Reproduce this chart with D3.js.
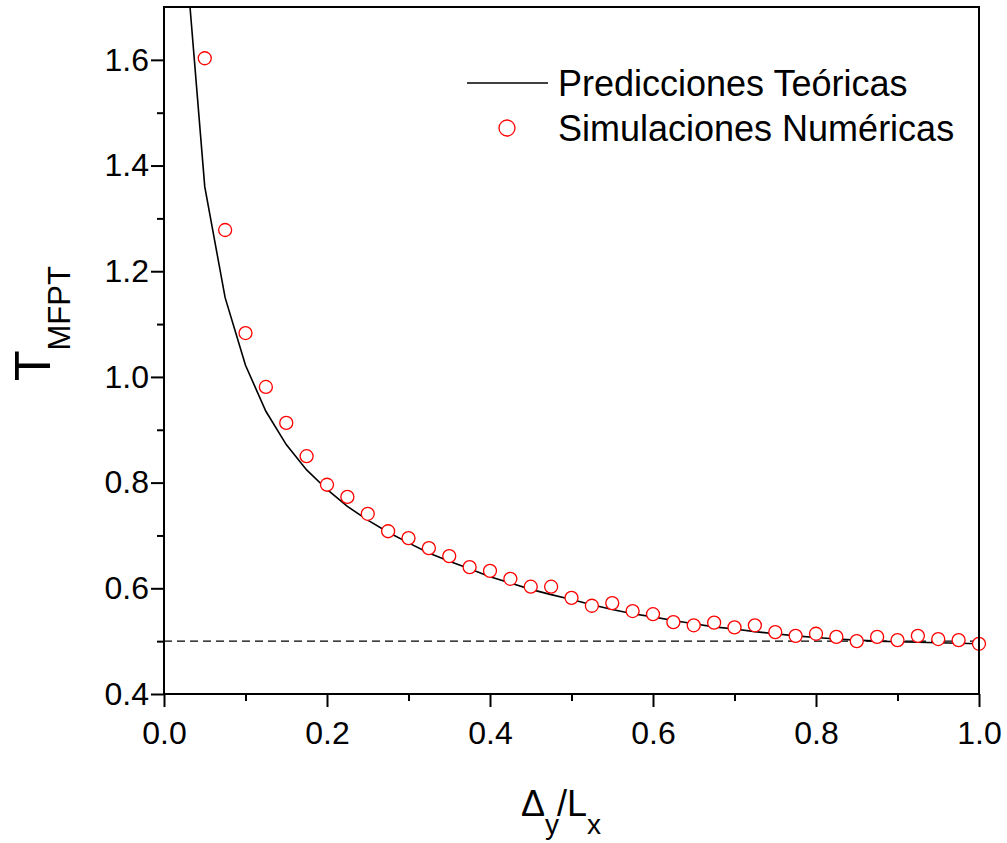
<!DOCTYPE html>
<html>
<head>
<meta charset="utf-8">
<script src="https://cdn.jsdelivr.net/npm/d3@7"></script>
<style>
    body { margin: 0; background: #fff; }
    svg { display: block; font-family: "Liberation Sans", Arial, sans-serif; }
</style>
</head>
<body>
<div id="chart"></div>
<script>
// curve (teoria), step 0.025
const theoryX = [0.025, 0.05, 0.075, 0.1, 0.125, 0.15, 0.175, 0.2, 0.225, 0.25, 0.275, 0.3, 0.325, 0.35, 0.375, 0.4,
    0.425, 0.45, 0.475, 0.5, 0.525, 0.55, 0.575, 0.6, 0.625, 0.65, 0.675, 0.7, 0.725, 0.75, 0.775, 0.8,
    0.825, 0.85, 0.875, 0.9, 0.925, 0.95, 0.975, 1.0];
const theoryY = [1.83, 1.36, 1.15, 1.022, 0.935, 0.872, 0.824, 0.787, 0.755, 0.729, 0.706, 0.686, 0.667, 0.651, 0.637, 0.622,
    0.610, 0.598, 0.588, 0.579, 0.569, 0.560, 0.552, 0.546, 0.539, 0.533, 0.527, 0.523, 0.518, 0.514, 0.510, 0.507,
    0.504, 0.502, 0.500, 0.499, 0.498, 0.497, 0.496, 0.495];

// simulaciones
const simX = [0.05, 0.075, 0.1, 0.125, 0.15, 0.175, 0.2, 0.225, 0.25, 0.275, 0.3, 0.325, 0.35, 0.375, 0.4,
    0.425, 0.45, 0.475, 0.5, 0.525, 0.55, 0.575, 0.6, 0.625, 0.65, 0.675, 0.7, 0.725, 0.75, 0.775, 0.8,
    0.825, 0.85, 0.875, 0.9, 0.925, 0.95, 0.975, 1.0];
const simY = [1.603, 1.278, 1.083, 0.981, 0.913, 0.850, 0.796, 0.773, 0.741, 0.708, 0.695, 0.676, 0.661, 0.640, 0.633,
    0.618, 0.603, 0.603, 0.582, 0.567, 0.572, 0.557, 0.551, 0.536, 0.530, 0.535, 0.526, 0.530, 0.517, 0.510, 0.514,
    0.508, 0.500, 0.508, 0.502, 0.510, 0.504, 0.502, 0.495];

const asymptote = 0.5;
const xTicks = [0, 0.2, 0.4, 0.6, 0.8, 1.0];
const xMinor = [0.1, 0.3, 0.5, 0.7, 0.9];
const yTicks = [0.4, 0.6, 0.8, 1.0, 1.2, 1.4, 1.6];
const yMinor = [0.5, 0.7, 0.9, 1.1, 1.3, 1.5];
const legendLabels = ["Predicciones Teóricas", "Simulaciones Numéricas"];

const width = 1007, height = 843;
const margin = {top: 7, right: 28, bottom: 149, left: 164};

const svg = d3.select("#chart").append("svg")
    .attr("width", width)
    .attr("height", height);

const x = d3.scaleLinear().domain([0, 1]).range([margin.left, width - margin.right]);
const y = d3.scaleLinear().domain([0.4, 1.7]).range([height - margin.bottom, margin.top]);

svg.append("clipPath").attr("id", "plot-clip")
    .append("rect")
    .attr("x", x(0)).attr("y", y(1.7))
    .attr("width", x(1) - x(0)).attr("height", y(0.4) - y(1.7));

// dashed line at 0.5
svg.append("line")
    .attr("x1", x(0)).attr("x2", x(1))
    .attr("y1", y(asymptote)).attr("y2", y(asymptote))
    .attr("stroke", "#000")
    .attr("stroke-width", 1.3)
    .attr("stroke-dasharray", "8,5");

const line = d3.line()
    .x((d, i) => x(theoryX[i]))
    .y(d => y(d));

svg.append("path")
    .datum(theoryY)
    .attr("clip-path", "url(#plot-clip)")
    .attr("fill", "none")
    .attr("stroke", "#000")
    .attr("stroke-width", 1.6)
    .attr("d", line);

svg.append("g")
    .selectAll("circle")
    .data(simY)
    .enter().append("circle")
    .attr("cx", (d, i) => x(simX[i]))
    .attr("cy", d => y(d))
    .attr("r", 6.5)
    .attr("fill", "#fff")
    .attr("stroke", "#ff0000")
    .attr("stroke-width", 1.3);

// axes
svg.append("g")
    .attr("transform", `translate(0,${y(0.4)})`)
    .call(d3.axisBottom(x).tickValues(xTicks).tickFormat(d3.format(".1f")).tickSize(13).tickPadding(14));
svg.append("g")
    .attr("transform", `translate(0,${y(0.4)})`)
    .call(d3.axisBottom(x).tickValues(xMinor).tickFormat("").tickSize(7));

svg.append("g")
    .attr("transform", `translate(${x(0)},0)`)
    .call(d3.axisLeft(y).tickValues(yTicks).tickFormat(d3.format(".1f")).tickSize(13).tickPadding(2));
svg.append("g")
    .attr("transform", `translate(${x(0)},0)`)
    .call(d3.axisLeft(y).tickValues(yMinor).tickFormat("").tickSize(7));

svg.selectAll(".domain").remove();
svg.selectAll(".tick line").attr("stroke", "#000").attr("stroke-width", 2);
svg.selectAll(".tick text")
    .attr("fill", "#000")
    .style("font-size", "32px")
    .style("font-family", "'Liberation Sans', Arial, sans-serif");

// frame
svg.append("rect")
    .attr("x", x(0)).attr("y", y(1.7))
    .attr("width", x(1) - x(0)).attr("height", y(0.4) - y(1.7))
    .attr("fill", "none")
    .attr("stroke", "#000")
    .attr("stroke-width", 2);

// axis labels
const yLabel = svg.append("text")
    .attr("transform", `translate(50,381) rotate(-90)`)
    .attr("fill", "#000");
yLabel.append("tspan").style("font-size", "50px").text("T");
yLabel.append("tspan").style("font-size", "31px").attr("dy", 20).text("MFPT");

const xLabel = svg.append("text")
    .attr("x", 521).attr("y", 816)
    .attr("fill", "#000");
xLabel.append("tspan").style("font-size", "36px").text("Δ");
xLabel.append("tspan").style("font-size", "28px").attr("dy", 18).text("y");
xLabel.append("tspan").style("font-size", "36px").attr("dy", -18).attr("dx", -2).text("/L");
xLabel.append("tspan").style("font-size", "28px").attr("dy", 18).text("x");

// legend
const legend = svg.append("g");
legend.append("line")
    .attr("x1", 467).attr("x2", 548)
    .attr("y1", 83).attr("y2", 83)
    .attr("stroke", "#000").attr("stroke-width", 1.6);
legend.append("circle")
    .attr("cx", 507).attr("cy", 128).attr("r", 8)
    .attr("fill", "#fff").attr("stroke", "#ff0000").attr("stroke-width", 1.3);
legend.selectAll("text.leg")
    .data(legendLabels)
    .enter().append("text")
    .attr("class", "leg")
    .attr("x", 558)
    .attr("y", (d, i) => 96 + i * 45)
    .attr("fill", "#000")
    .style("font-size", "36px")
    .text(d => d);
</script>
</body>
</html>
